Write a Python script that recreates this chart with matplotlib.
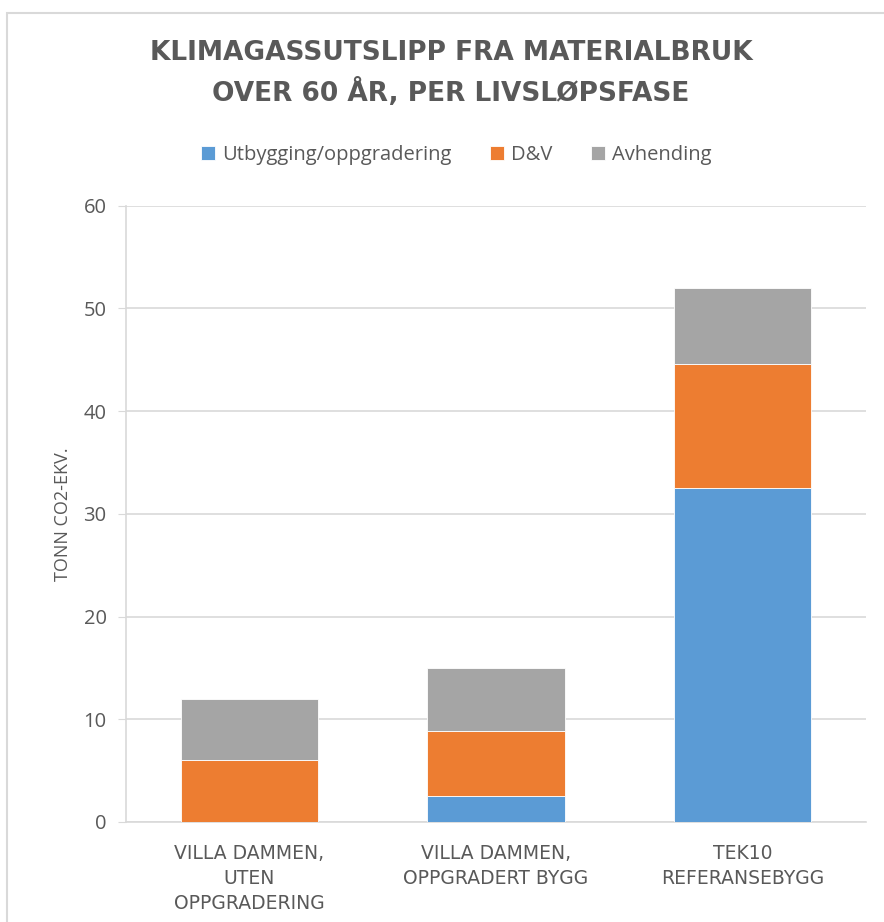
import matplotlib.pyplot as plt
from matplotlib.patches import Rectangle
import numpy as np

categories = ['VILLA DAMMEN,\nUTEN\nOPPGRADERING', 'VILLA DAMMEN,\nOPPGRADERT BYGG', 'TEK10\nREFERANSEBYGG']
utbygging = [0.0, 2.5, 32.5]
dv = [6.0, 6.35, 12.1]
avhending = [6.0, 6.1, 7.4]
series_names = ['Utbygging/oppgradering', 'D&V', 'Avhending']
colors = ['#5B9BD5', '#ED7D31', '#A5A5A5']
yticks = [0, 10, 20, 30, 40, 50, 60]

text_color = '#595959'
grid_color = '#D9D9D9'

plt.rcParams['font.family'] = ['Open Sans', 'DejaVu Sans']

fig = plt.figure(figsize=(8.84, 9.22), dpi=100)
ax = fig.add_axes([0.1425, 0.1085, 0.8371, 0.6684])

x = np.arange(len(categories))
width = 0.557
bottom = np.zeros(len(categories))
for vals, name, col in zip([utbygging, dv, avhending], series_names, colors):
    ax.bar(x, vals, width, bottom=bottom, color=col, label=name,
           edgecolor='white', linewidth=0.6, zorder=3)
    bottom = bottom + np.array(vals)

ax.set_xlim(-0.5, len(categories) - 0.5)
ax.set_ylim(0, 60)
ax.set_yticks(yticks)
ax.set_xticks(x)
ax.set_xticklabels(categories, fontsize=13.5, color=text_color, linespacing=1.4,
                   family='DejaVu Sans')
ax.tick_params(axis='x', length=0, pad=16)
ax.tick_params(axis='y', length=6, color=grid_color, labelsize=14.5, labelcolor=text_color, pad=8)
ax.grid(axis='y', color=grid_color, linewidth=1.2, zorder=0)
for s in ['top', 'right']:
    ax.spines[s].set_visible(False)
ax.spines['left'].set_color(grid_color)
ax.spines['bottom'].set_color(grid_color)
ax.spines['left'].set_linewidth(1.2)
ax.spines['bottom'].set_linewidth(1.2)
ax.set_ylabel('TONN CO2-EKV.', fontsize=13, color=text_color, labelpad=8)

fig.text(0.51, 0.9425, 'KLIMAGASSUTSLIPP FRA MATERIALBRUK', ha='center', va='center',
         fontsize=19, fontweight='bold', color=text_color, family='DejaVu Sans')
fig.text(0.51, 0.900, 'OVER 60 ÅR, PER LIVSLØPSFASE', ha='center', va='center',
         fontsize=19, fontweight='bold', color=text_color, family='DejaVu Sans')

leg = fig.legend(loc='center', bbox_to_anchor=(0.516, 0.832), ncol=3, frameon=False,
                 fontsize=14.5, handlelength=0.7, handleheight=0.7, handletextpad=0.35,
                 columnspacing=1.9, labelcolor=text_color)

fig.patches.append(Rectangle((0.008, -0.01), 1.0, 0.996, transform=fig.transFigure,
                             fill=False, edgecolor=grid_color, linewidth=1.5))

fig.savefig('out.png', dpi=100)
